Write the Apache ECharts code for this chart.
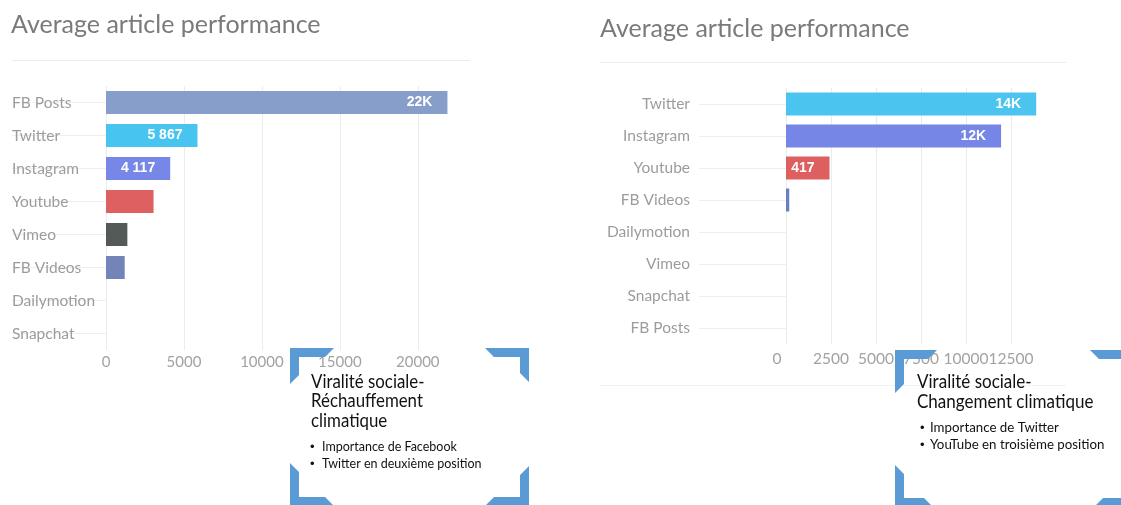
<!DOCTYPE html>
<html><head><meta charset="utf-8">
<script src="https://cdn.jsdelivr.net/npm/echarts@6/dist/echarts.min.js"></script>
<style>html,body{margin:0;padding:0;background:#fff}#c{width:1121px;height:505px}</style>
</head><body><div id="c"></div>
<script>
// ---- data ----
const leftCategories = ['FB Posts','Twitter','Instagram','Youtube','Vimeo','FB Videos','Dailymotion','Snapchat'];
const leftValues = [21900, 5867, 4117, 3050, 1370, 1200, 0, 0];
const leftLabels = ['22K','5 867','4 117','','','','',''];
const leftColors = ['#879ecb','#48c4f0','#7787e8','#df6060','#535a58','#7384b9','#7384b9','#7384b9'];

const rightCategories = ['Twitter','Instagram','Youtube','FB Videos','Dailymotion','Vimeo','Snapchat','FB Posts'];
const rightValues = [13900, 11950, 2417, 180, 0, 0, 0, 0];
const rightLabels = ['14K','12K','417','','','','',''];
const rightColors = ['#4bc4ef','#7586e6','#dd5f5f','#6a7fbf','#6a7fbf','#6a7fbf','#6a7fbf','#6a7fbf'];

const chartTitle = 'Average article performance';
const leftBoxTitle = ['Viralité sociale-','Réchauffement','climatique'];
const leftBoxBullets = ['Importance de Facebook','Twitter en deuxième position'];
const rightBoxTitle = ['Viralité sociale-','Changement climatique'];
const rightBoxBullets = ['Importance de Twitter','YouTube en troisième position'];

// ---- helpers ----
const FONT = 'Lato, "Noto Sans", sans-serif';
const BOXFONT = 'Lato, "Liberation Sans", Arial, sans-serif';
const BULLETFONT = '"Liberation Sans", Arial, sans-serif';
const BLUE = '#5b9bd5';
function bracket(cx, cy, sx, sy, a, b, t) {
  return {type:'polygon', z:100, shape:{points:[[cx,cy],[cx+sx*a,cy],[cx+sx*(a-t),cy+sy*t],[cx+sx*t,cy+sy*t],[cx+sx*t,cy+sy*(b-t)],[cx,cy+sy*b]]}, style:{fill:BLUE}};
}
function txt(s, x, y, size, sx, fam) {
  return {type:'text', z:101, x:x, y:y, scaleX:sx||1, style:{text:s, x:0, y:0, font:size+'px '+(fam||BOXFONT), fill:'#111', textAlign:'left', verticalAlign:'middle'}};
}
function bars(values, labels, colors) {
  return values.map((v,i)=>({value:v, itemStyle:{color:colors[i]}, label:{show:labels[i]!=='' , formatter:labels[i]}}));
}
function xAxisCfg(gi, max, interval, fs, margin, shiftZero) {
  return {type:'value', gridIndex:gi, min:0, max:max, interval:interval,
    axisLine:{show:false}, axisTick:{show:false},
    axisLabel:{color:'#a2a2a2', fontFamily:FONT, fontSize:fs, margin:margin, showMaxLabel:false,
      formatter:v=> (shiftZero && v===0) ? '{z|0}' : String(v),
      rich:{z:{color:'#a2a2a2', fontFamily:FONT, fontSize:fs, padding:[0,18,0,0]}}},
    splitLine:{show:true, showMaxLine:false, lineStyle:{color:'#ececec', width:1}}};
}
function yAxisCfg(gi, cats, align, margin, tickLen, fs) {
  return {type:'category', gridIndex:gi, data:cats, inverse:true,
    axisLine:{show:false},
    axisTick:{show:true, alignWithLabel:true, length:tickLen, lineStyle:{color:'#efefef'}},
    axisLabel:{color:'#9c9c9c', fontFamily:FONT, fontSize:fs, align:align, margin:margin}};
}
const barLabel = {position:'insideRight', distance:15, color:'#fff', fontWeight:'bold', fontSize:14, fontFamily:'"Liberation Sans", Arial, sans-serif'};

const chart = echarts.init(document.getElementById('c'), null, {renderer:'canvas'});
chart.setOption({
  backgroundColor:'#fff',
  animation:false,
  title:[
    {text:chartTitle, left:11, top:12, padding:0, textStyle:{fontFamily:FONT, fontSize:25, fontWeight:'normal', color:'#7a7a7a'}},
    {text:chartTitle, left:600, top:16, padding:0, textStyle:{fontFamily:FONT, fontSize:25, fontWeight:'normal', color:'#7a7a7a'}}
  ],
  grid:[
    {left:106, top:86, width:343, height:264, containLabel:false},
    {left:786, top:88, width:252, height:256, containLabel:false}
  ],
  xAxis:[xAxisCfg(0, 22000, 5000, 15, 5, false), xAxisCfg(1, 14000, 2500, 15.5, 7, true)],
  yAxis:[yAxisCfg(0, leftCategories, 'left', 94, 94, 15.5), yAxisCfg(1, rightCategories, 'right', 96, 87, 15.5)],
  series:[
    {type:'bar', xAxisIndex:0, yAxisIndex:0, barWidth:23, data:bars(leftValues,leftLabels,leftColors), label:barLabel},
    {type:'bar', xAxisIndex:1, yAxisIndex:1, barWidth:23, data:bars(rightValues,rightLabels,rightColors), label:barLabel}
  ],
  graphic:[
    {type:'line', z:1, shape:{x1:12, y1:60.5, x2:470, y2:60.5}, style:{stroke:'#ececec', lineWidth:1}},
    {type:'line', z:1, shape:{x1:600, y1:62.5, x2:1066, y2:62.5}, style:{stroke:'#ececec', lineWidth:1}},
    {type:'line', z:1, shape:{x1:600, y1:385.5, x2:1066, y2:385.5}, style:{stroke:'#f2f2f2', lineWidth:1}},
    // left box frame
    bracket(290,348, 1, 1,44,36,9), bracket(529,348,-1, 1,44,34,9),
    bracket(290,506, 1,-1,44,43,9), bracket(529,506,-1,-1,44,40,9),
    // right box frame
    bracket(895,350, 1, 1,42,43,9), bracket(1132,350,-1, 1,42,43,9),
    bracket(895,507, 1,-1,38,42,9), bracket(1132,507,-1,-1,38,42,9),
    txt(leftBoxTitle[0], 311, 382, 18.5, 0.91), txt(leftBoxTitle[1], 311, 401.5, 18.5, 0.91), txt(leftBoxTitle[2], 311, 421, 18.5, 0.91),
    txt('•', 310, 447, 13, 1, BULLETFONT), txt(leftBoxBullets[0], 322, 447, 12.5),
    txt('•', 310, 464, 13, 1, BULLETFONT), txt(leftBoxBullets[1], 322, 464, 12.5),
    txt(rightBoxTitle[0], 917, 382, 18.5, 0.92), txt(rightBoxTitle[1], 917, 402.5, 18.5, 0.92),
    txt('•', 920, 428, 13, 1, BULLETFONT), txt(rightBoxBullets[0], 930, 428, 13.3),
    txt('•', 920, 445, 13, 1, BULLETFONT), txt(rightBoxBullets[1], 930, 445, 13.3)
  ]
});
</script>
</body></html>
